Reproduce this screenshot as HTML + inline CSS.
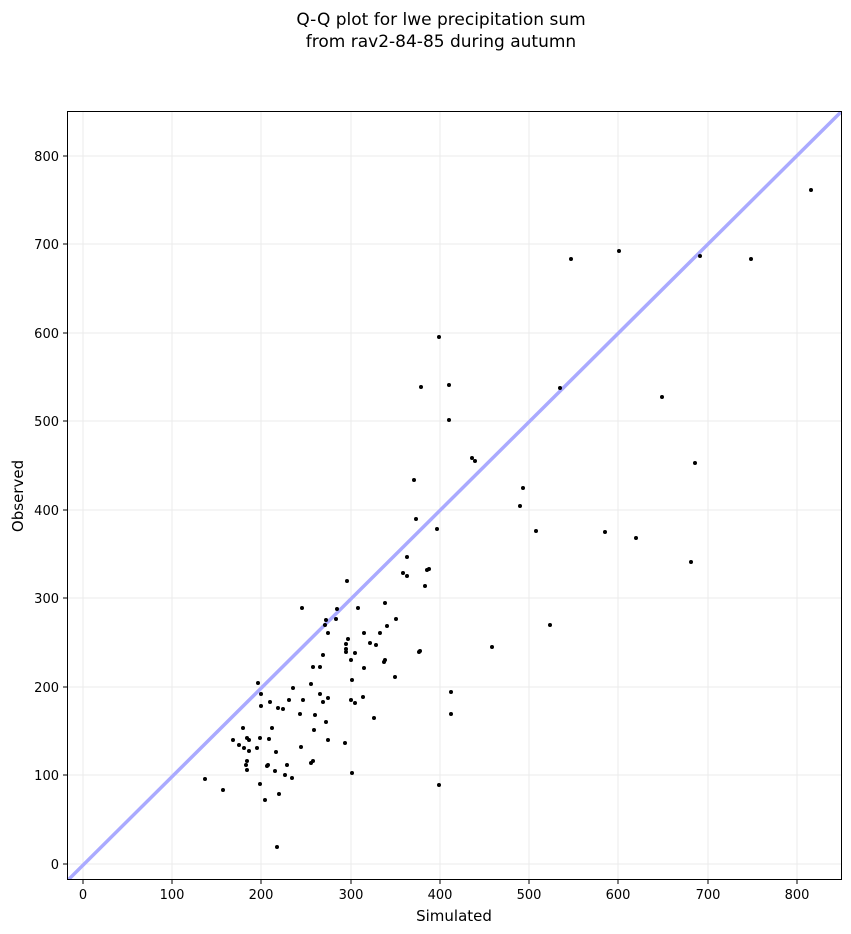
<!DOCTYPE html>
<html><head><meta charset="utf-8"><style>body{margin:0;background:#fff}svg{display:block;font-family:"DejaVu Sans","Liberation Sans",sans-serif}</style></head>
<body>
<svg width="851" height="934" viewBox="0 0 851 934" xmlns="http://www.w3.org/2000/svg">
<text x="441" y="25" font-size="17" text-anchor="middle">Q-Q plot for lwe precipitation sum</text>
<text x="441" y="47" font-size="17" text-anchor="middle">from rav2-84-85 during autumn</text>
<defs><clipPath id="c"><rect x="67" y="111" width="775" height="769"/></clipPath></defs>
<g stroke="#ebebeb" stroke-width="1">
<line x1="83" y1="111" x2="83" y2="880"/><line x1="172" y1="111" x2="172" y2="880"/><line x1="261" y1="111" x2="261" y2="880"/><line x1="351" y1="111" x2="351" y2="880"/><line x1="440" y1="111" x2="440" y2="880"/><line x1="529" y1="111" x2="529" y2="880"/><line x1="618" y1="111" x2="618" y2="880"/><line x1="708" y1="111" x2="708" y2="880"/><line x1="797" y1="111" x2="797" y2="880"/>
<line x1="67" y1="864" x2="842" y2="864"/><line x1="67" y1="775" x2="842" y2="775"/><line x1="67" y1="687" x2="842" y2="687"/><line x1="67" y1="598" x2="842" y2="598"/><line x1="67" y1="510" x2="842" y2="510"/><line x1="67" y1="421" x2="842" y2="421"/><line x1="67" y1="333" x2="842" y2="333"/><line x1="67" y1="244" x2="842" y2="244"/><line x1="67" y1="156" x2="842" y2="156"/>
</g>
<line clip-path="url(#c)" x1="60" y1="888" x2="850" y2="103" stroke="#aaaaff" stroke-width="3.5"/>
<g fill="#000">
<circle cx="811" cy="190" r="2"/><circle cx="571" cy="259" r="2"/><circle cx="619" cy="251" r="2"/><circle cx="700" cy="256" r="2"/><circle cx="751" cy="259" r="2"/><circle cx="560" cy="388" r="2"/><circle cx="662" cy="397" r="2"/><circle cx="695" cy="463" r="2"/><circle cx="523" cy="488" r="2"/><circle cx="520" cy="506" r="2"/><circle cx="536" cy="531" r="2"/><circle cx="605" cy="532" r="2"/><circle cx="636" cy="538" r="2"/><circle cx="691" cy="562" r="2"/><circle cx="550" cy="625" r="2"/><circle cx="492" cy="647" r="2"/>
<circle cx="439" cy="337" r="2"/><circle cx="421" cy="387" r="2"/><circle cx="449" cy="385" r="2"/><circle cx="449" cy="420" r="2"/><circle cx="472" cy="458" r="2"/><circle cx="475" cy="461" r="2"/><circle cx="414" cy="480" r="2"/><circle cx="416" cy="519" r="2"/><circle cx="437" cy="529" r="2"/><circle cx="407" cy="557" r="2"/><circle cx="427" cy="570" r="2"/><circle cx="429" cy="569" r="2"/><circle cx="403" cy="573" r="2"/><circle cx="407" cy="576" r="2"/><circle cx="425" cy="586" r="2"/>
<circle cx="347" cy="581" r="2"/><circle cx="302" cy="608" r="2"/><circle cx="337" cy="609" r="2"/><circle cx="358" cy="608" r="2"/><circle cx="385" cy="603" r="2"/><circle cx="326" cy="620" r="2"/><circle cx="325" cy="625" r="2"/><circle cx="336" cy="619" r="2"/><circle cx="396" cy="619" r="2"/><circle cx="387" cy="626" r="2"/><circle cx="328" cy="633" r="2"/><circle cx="364" cy="633" r="2"/><circle cx="380" cy="633" r="2"/><circle cx="348" cy="639" r="2"/><circle cx="346" cy="644" r="2"/><circle cx="370" cy="643" r="2"/><circle cx="376" cy="645" r="2"/><circle cx="346" cy="649" r="2"/><circle cx="346" cy="652" r="2"/><circle cx="355" cy="653" r="2"/><circle cx="323" cy="655" r="2"/><circle cx="420" cy="651" r="2"/><circle cx="419" cy="652" r="2"/><circle cx="351" cy="660" r="2"/><circle cx="385" cy="660" r="2"/><circle cx="384" cy="662" r="2"/><circle cx="364" cy="668" r="2"/><circle cx="313" cy="667" r="2"/><circle cx="320" cy="667" r="2"/><circle cx="352" cy="680" r="2"/><circle cx="395" cy="677" r="2"/><circle cx="293" cy="688" r="2"/><circle cx="311" cy="684" r="2"/><circle cx="289" cy="700" r="2"/><circle cx="303" cy="700" r="2"/><circle cx="320" cy="694" r="2"/><circle cx="328" cy="698" r="2"/><circle cx="323" cy="702" r="2"/><circle cx="351" cy="700" r="2"/><circle cx="355" cy="703" r="2"/><circle cx="363" cy="697" r="2"/><circle cx="283" cy="709" r="2"/><circle cx="451" cy="692" r="2"/><circle cx="300" cy="714" r="2"/><circle cx="315" cy="715" r="2"/><circle cx="326" cy="722" r="2"/><circle cx="374" cy="718" r="2"/><circle cx="451" cy="714" r="2"/><circle cx="314" cy="730" r="2"/><circle cx="328" cy="740" r="2"/><circle cx="301" cy="747" r="2"/><circle cx="345" cy="743" r="2"/><circle cx="287" cy="765" r="2"/><circle cx="285" cy="775" r="2"/><circle cx="292" cy="778" r="2"/><circle cx="311" cy="763" r="2"/><circle cx="313" cy="761" r="2"/><circle cx="352" cy="773" r="2"/><circle cx="439" cy="785" r="2"/>
<circle cx="258" cy="683" r="2"/><circle cx="261" cy="694" r="2"/><circle cx="278" cy="708" r="2"/><circle cx="261" cy="706" r="2"/><circle cx="270" cy="702" r="2"/><circle cx="243" cy="728" r="2"/><circle cx="272" cy="728" r="2"/><circle cx="233" cy="740" r="2"/><circle cx="239" cy="745" r="2"/><circle cx="247" cy="738" r="2"/><circle cx="249" cy="740" r="2"/><circle cx="244" cy="748" r="2"/><circle cx="249" cy="751" r="2"/><circle cx="257" cy="748" r="2"/><circle cx="260" cy="738" r="2"/><circle cx="269" cy="739" r="2"/><circle cx="276" cy="752" r="2"/><circle cx="247" cy="761" r="2"/><circle cx="246" cy="765" r="2"/><circle cx="247" cy="770" r="2"/><circle cx="267" cy="766" r="2"/><circle cx="268" cy="765" r="2"/><circle cx="275" cy="771" r="2"/><circle cx="205" cy="779" r="2"/><circle cx="223" cy="790" r="2"/><circle cx="260" cy="784" r="2"/><circle cx="279" cy="794" r="2"/><circle cx="265" cy="800" r="2"/><circle cx="277" cy="847" r="2"/>
</g>
<rect x="67.5" y="111.5" width="774" height="768" fill="none" stroke="#000" stroke-width="1"/>
<g stroke="#000">
<line x1="83" y1="880" x2="83" y2="884"/><line x1="172" y1="880" x2="172" y2="884"/><line x1="261" y1="880" x2="261" y2="884"/><line x1="351" y1="880" x2="351" y2="884"/><line x1="440" y1="880" x2="440" y2="884"/><line x1="529" y1="880" x2="529" y2="884"/><line x1="618" y1="880" x2="618" y2="884"/><line x1="708" y1="880" x2="708" y2="884"/><line x1="797" y1="880" x2="797" y2="884"/>
<line x1="63" y1="864" x2="67" y2="864"/><line x1="63" y1="775" x2="67" y2="775"/><line x1="63" y1="687" x2="67" y2="687"/><line x1="63" y1="598" x2="67" y2="598"/><line x1="63" y1="510" x2="67" y2="510"/><line x1="63" y1="421" x2="67" y2="421"/><line x1="63" y1="333" x2="67" y2="333"/><line x1="63" y1="244" x2="67" y2="244"/><line x1="63" y1="156" x2="67" y2="156"/>
</g>
<g font-size="13" text-anchor="middle">
<text x="83" y="899">0</text><text x="172" y="899">100</text><text x="261" y="899">200</text><text x="351" y="899">300</text><text x="440" y="899">400</text><text x="529" y="899">500</text><text x="618" y="899">600</text><text x="708" y="899">700</text><text x="797" y="899">800</text>
</g>
<g font-size="13" text-anchor="end">
<text x="59" y="869">0</text><text x="59" y="780">100</text><text x="59" y="692">200</text><text x="59" y="603">300</text><text x="59" y="515">400</text><text x="59" y="426">500</text><text x="59" y="338">600</text><text x="59" y="249">700</text><text x="59" y="161">800</text>
</g>
<text x="454" y="921" font-size="15" text-anchor="middle">Simulated</text>
<text transform="translate(23,496) rotate(-90)" font-size="15" text-anchor="middle">Observed</text>
</svg>
</body></html>
